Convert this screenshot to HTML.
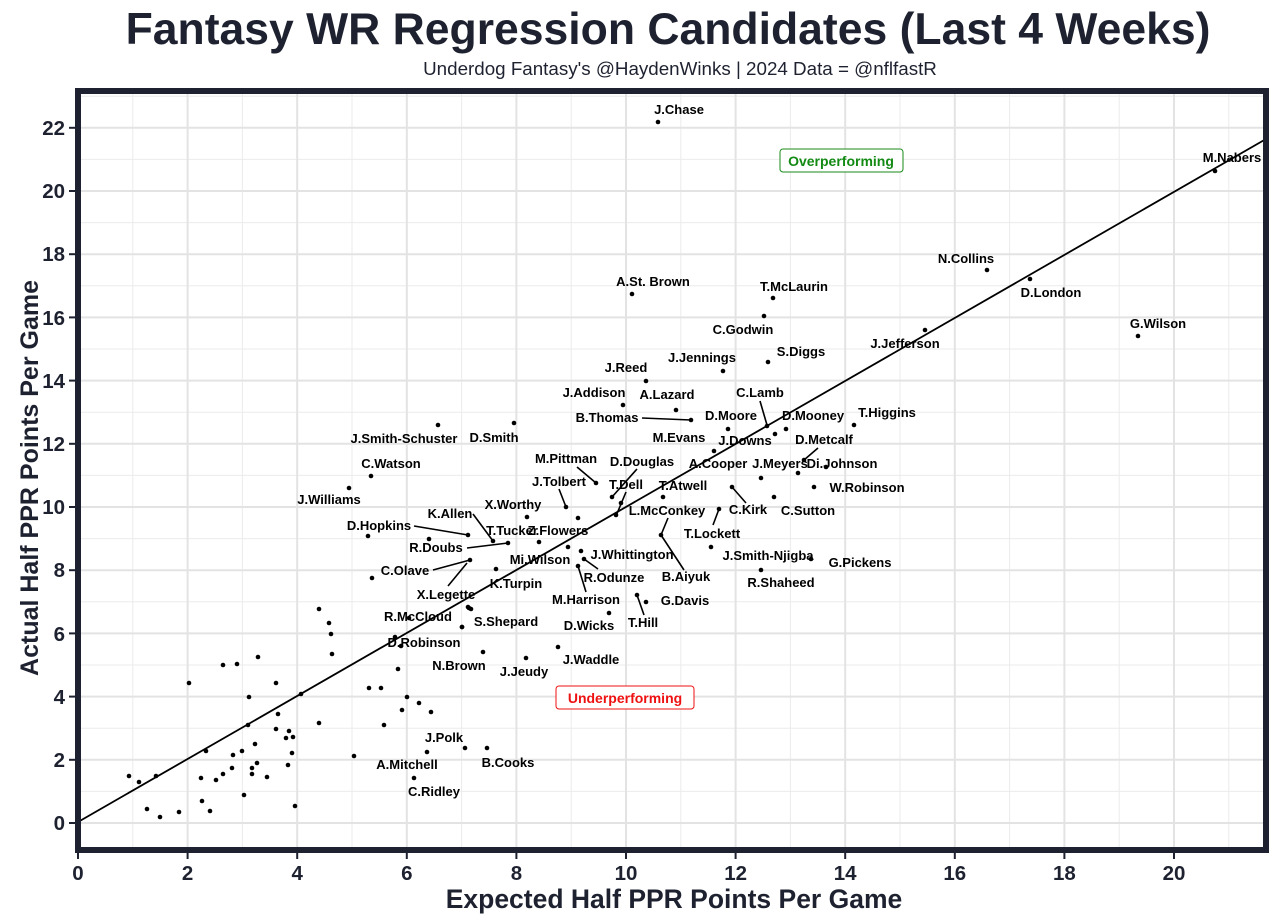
<!DOCTYPE html>
<html><head><meta charset="utf-8"><style>
body{margin:0;background:#fff;}
svg{display:block;font-family:"Liberation Sans",Arial,sans-serif;}
.l{font-size:13px;font-weight:bold;fill:#000;text-anchor:middle;}
.tk{font-size:20.5px;font-weight:bold;fill:#1e2230;}
</style></head><body>
<svg width="1280" height="922" viewBox="0 0 1280 922">
<rect width="1280" height="922" fill="#fff"/>
<text x="668" y="44" text-anchor="middle" font-size="44.5" font-weight="bold" fill="#1e2230">Fantasy WR Regression Candidates (Last 4 Weeks)</text>
<text x="680" y="75" text-anchor="middle" font-size="18.8" fill="#1e2230">Underdog Fantasy's @HaydenWinks | 2024 Data = @nflfastR</text>
<g stroke="#ebebeb" stroke-width="1">
<line x1="132.8" y1="94" x2="132.8" y2="850"/><line x1="242.4" y1="94" x2="242.4" y2="850"/><line x1="352" y1="94" x2="352" y2="850"/><line x1="461.6" y1="94" x2="461.6" y2="850"/><line x1="571.2" y1="94" x2="571.2" y2="850"/><line x1="680.8" y1="94" x2="680.8" y2="850"/><line x1="790.4" y1="94" x2="790.4" y2="850"/><line x1="900" y1="94" x2="900" y2="850"/><line x1="1009.6" y1="94" x2="1009.6" y2="850"/><line x1="1119.2" y1="94" x2="1119.2" y2="850"/><line x1="1228.8" y1="94" x2="1228.8" y2="850"/>
<line x1="81" y1="791.4" x2="1266" y2="791.4"/><line x1="81" y1="728.2" x2="1266" y2="728.2"/><line x1="81" y1="665" x2="1266" y2="665"/><line x1="81" y1="601.8" x2="1266" y2="601.8"/><line x1="81" y1="538.6" x2="1266" y2="538.6"/><line x1="81" y1="475.4" x2="1266" y2="475.4"/><line x1="81" y1="412.2" x2="1266" y2="412.2"/><line x1="81" y1="349" x2="1266" y2="349"/><line x1="81" y1="285.8" x2="1266" y2="285.8"/><line x1="81" y1="222.6" x2="1266" y2="222.6"/><line x1="81" y1="159.4" x2="1266" y2="159.4"/><line x1="81" y1="96.2" x2="1266" y2="96.2"/>
</g>
<g stroke="#e3e3e3" stroke-width="2">
<line x1="187.6" y1="94" x2="187.6" y2="850"/><line x1="297.2" y1="94" x2="297.2" y2="850"/><line x1="406.8" y1="94" x2="406.8" y2="850"/><line x1="516.4" y1="94" x2="516.4" y2="850"/><line x1="626" y1="94" x2="626" y2="850"/><line x1="735.6" y1="94" x2="735.6" y2="850"/><line x1="845.2" y1="94" x2="845.2" y2="850"/><line x1="954.8" y1="94" x2="954.8" y2="850"/><line x1="1064.4" y1="94" x2="1064.4" y2="850"/><line x1="1174" y1="94" x2="1174" y2="850"/>
<line x1="81" y1="823" x2="1266" y2="823"/><line x1="81" y1="759.8" x2="1266" y2="759.8"/><line x1="81" y1="696.6" x2="1266" y2="696.6"/><line x1="81" y1="633.4" x2="1266" y2="633.4"/><line x1="81" y1="570.2" x2="1266" y2="570.2"/><line x1="81" y1="507" x2="1266" y2="507"/><line x1="81" y1="443.8" x2="1266" y2="443.8"/><line x1="81" y1="380.6" x2="1266" y2="380.6"/><line x1="81" y1="317.4" x2="1266" y2="317.4"/><line x1="81" y1="254.2" x2="1266" y2="254.2"/><line x1="81" y1="191" x2="1266" y2="191"/><line x1="81" y1="127.8" x2="1266" y2="127.8"/>
</g>
<line x1="78" y1="822" x2="1266" y2="139" stroke="#000" stroke-width="1.8"/>
<g stroke="#000" stroke-width="1.6">
<line x1="760" y1="401" x2="767" y2="425"/><line x1="818" y1="448" x2="804" y2="460"/><line x1="732" y1="487" x2="746" y2="503"/><line x1="719" y1="509" x2="713" y2="525"/>
<polyline fill="none" points="668,518 661,535 684,570"/><line x1="637" y1="469" x2="612" y2="497"/><line x1="626" y1="492" x2="616" y2="516"/><line x1="642" y1="418" x2="691" y2="420"/>
<line x1="577" y1="467" x2="596" y2="483"/><line x1="559" y1="489" x2="566" y2="507"/><line x1="473" y1="514" x2="493" y2="541"/><line x1="414" y1="526" x2="468" y2="535"/><line x1="467" y1="548" x2="508" y2="543"/><line x1="433" y1="570" x2="470" y2="560"/><line x1="448" y1="586" x2="467" y2="563"/><line x1="598" y1="569" x2="584" y2="559"/><line x1="586" y1="592" x2="578" y2="566"/><line x1="644" y1="615" x2="637" y2="595"/>
</g>
<g fill="#000">
<circle cx="319" cy="609" r="2.3"/><circle cx="329" cy="623" r="2.3"/><circle cx="331" cy="634" r="2.3"/><circle cx="332" cy="654" r="2.3"/><circle cx="223" cy="665" r="2.3"/><circle cx="237" cy="664" r="2.3"/><circle cx="258" cy="657" r="2.3"/><circle cx="189" cy="683" r="2.3"/><circle cx="276" cy="683" r="2.3"/><circle cx="249" cy="697" r="2.3"/><circle cx="301" cy="694" r="2.3"/><circle cx="369" cy="688" r="2.3"/><circle cx="381" cy="688" r="2.3"/><circle cx="407" cy="697" r="2.3"/><circle cx="402" cy="710" r="2.3"/><circle cx="419" cy="703" r="2.3"/><circle cx="431" cy="712" r="2.3"/><circle cx="398" cy="669" r="2.3"/><circle cx="462" cy="627" r="2.3"/><circle cx="469" cy="608" r="2.3"/><circle cx="401" cy="646" r="2.3"/><circle cx="395" cy="637" r="2.3"/><circle cx="409" cy="618" r="2.3"/><circle cx="278" cy="714" r="2.3"/><circle cx="319" cy="723" r="2.3"/><circle cx="384" cy="725" r="2.3"/><circle cx="248" cy="725" r="2.3"/><circle cx="276" cy="729" r="2.3"/><circle cx="289" cy="731" r="2.3"/><circle cx="286" cy="738" r="2.3"/><circle cx="293" cy="737" r="2.3"/><circle cx="255" cy="744" r="2.3"/><circle cx="206" cy="751" r="2.3"/><circle cx="233" cy="755" r="2.3"/><circle cx="242" cy="751" r="2.3"/><circle cx="292" cy="753" r="2.3"/><circle cx="354" cy="756" r="2.3"/><circle cx="427" cy="752" r="2.3"/><circle cx="465" cy="748" r="2.3"/><circle cx="487" cy="748" r="2.3"/><circle cx="129" cy="776" r="2.3"/><circle cx="139" cy="782" r="2.3"/><circle cx="156" cy="776" r="2.3"/><circle cx="201" cy="778" r="2.3"/><circle cx="216" cy="780" r="2.3"/><circle cx="223" cy="774" r="2.3"/><circle cx="232" cy="768" r="2.3"/><circle cx="252" cy="768" r="2.3"/><circle cx="252" cy="774" r="2.3"/><circle cx="257" cy="763" r="2.3"/><circle cx="267" cy="777" r="2.3"/><circle cx="288" cy="765" r="2.3"/><circle cx="414" cy="778" r="2.3"/><circle cx="147" cy="809" r="2.3"/><circle cx="160" cy="817" r="2.3"/><circle cx="179" cy="812" r="2.3"/><circle cx="202" cy="801" r="2.3"/><circle cx="210" cy="811" r="2.3"/><circle cx="244" cy="795" r="2.3"/><circle cx="295" cy="806" r="2.3"/>
<circle cx="371" cy="476" r="2.3"/><circle cx="349" cy="488" r="2.3"/><circle cx="368" cy="536" r="2.3"/><circle cx="468" cy="535" r="2.3"/><circle cx="429" cy="539" r="2.3"/><circle cx="493" cy="541" r="2.3"/><circle cx="508" cy="543" r="2.3"/><circle cx="470" cy="560" r="2.3"/><circle cx="372" cy="578" r="2.3"/><circle cx="496" cy="569" r="2.3"/><circle cx="527" cy="517" r="2.3"/><circle cx="539" cy="542" r="2.3"/><circle cx="566" cy="507" r="2.3"/><circle cx="578" cy="518" r="2.3"/><circle cx="596" cy="483" r="2.3"/><circle cx="568" cy="547" r="2.3"/><circle cx="581" cy="551" r="2.3"/><circle cx="584" cy="559" r="2.3"/><circle cx="578" cy="566" r="2.3"/><circle cx="637" cy="595" r="2.3"/><circle cx="646" cy="602" r="2.3"/><circle cx="609" cy="613" r="2.3"/><circle cx="468" cy="607" r="2.3"/><circle cx="471" cy="609" r="2.3"/><circle cx="462" cy="627" r="2.3"/><circle cx="483" cy="652" r="2.3"/><circle cx="526" cy="658" r="2.3"/><circle cx="558" cy="647" r="2.3"/>
<circle cx="646" cy="381" r="2.3"/><circle cx="723" cy="371" r="2.3"/><circle cx="623" cy="405" r="2.3"/><circle cx="676" cy="410" r="2.3"/><circle cx="691" cy="420" r="2.3"/><circle cx="728" cy="429" r="2.3"/><circle cx="767" cy="426" r="2.3"/><circle cx="775" cy="434" r="2.3"/><circle cx="786" cy="429" r="2.3"/><circle cx="854" cy="425" r="2.3"/><circle cx="714" cy="451" r="2.3"/><circle cx="804" cy="460" r="2.3"/><circle cx="826" cy="467" r="2.3"/><circle cx="798" cy="473" r="2.3"/><circle cx="761" cy="478" r="2.3"/><circle cx="814" cy="487" r="2.3"/><circle cx="732" cy="487" r="2.3"/><circle cx="774" cy="497" r="2.3"/><circle cx="663" cy="497" r="2.3"/><circle cx="612" cy="497" r="2.3"/><circle cx="621" cy="503" r="2.3"/><circle cx="616" cy="515" r="2.3"/><circle cx="719" cy="509" r="2.3"/><circle cx="661" cy="535" r="2.3"/><circle cx="711" cy="547" r="2.3"/><circle cx="811" cy="559" r="2.3"/><circle cx="761" cy="570" r="2.3"/>
<circle cx="658" cy="122" r="2.3"/><circle cx="1215" cy="171" r="2.3"/><circle cx="987" cy="270" r="2.3"/><circle cx="1030" cy="279" r="2.3"/><circle cx="1138" cy="336" r="2.3"/><circle cx="925" cy="330" r="2.3"/><circle cx="773" cy="298" r="2.3"/><circle cx="632" cy="294" r="2.3"/><circle cx="764" cy="316" r="2.3"/><circle cx="768" cy="362" r="2.3"/><circle cx="438" cy="425" r="2.3"/><circle cx="514" cy="423" r="2.3"/>
</g>
<g class="l">
<text x="679" y="114">J.Chase</text><text x="1232" y="162">M.Nabers</text><text x="966" y="263">N.Collins</text><text x="1051" y="297">D.London</text><text x="1158" y="328">G.Wilson</text><text x="905" y="348">J.Jefferson</text><text x="794" y="291">T.McLaurin</text><text x="653" y="286">A.St. Brown</text><text x="743" y="334">C.Godwin</text><text x="801" y="356">S.Diggs</text><text x="702" y="362">J.Jennings</text><text x="626" y="372">J.Reed</text><text x="594" y="397">J.Addison</text><text x="667" y="399">A.Lazard</text><text x="607" y="422">B.Thomas</text><text x="760" y="397">C.Lamb</text><text x="731" y="420">D.Moore</text><text x="813" y="420">D.Mooney</text><text x="887" y="417">T.Higgins</text><text x="404" y="443">J.Smith-Schuster</text><text x="494" y="442">D.Smith</text><text x="679" y="442">M.Evans</text><text x="745" y="445">J.Downs</text><text x="824" y="444">D.Metcalf</text><text x="391" y="468">C.Watson</text><text x="329" y="504">J.Williams</text><text x="566" y="463">M.Pittman</text><text x="642" y="466">D.Douglas</text><text x="559" y="486">J.Tolbert</text><text x="626" y="489">T.Dell</text><text x="683" y="490">T.Atwell</text><text x="718" y="468">A.Cooper</text><text x="780" y="468">J.Meyers</text><text x="842" y="468">Di.Johnson</text><text x="748" y="514">C.Kirk</text><text x="867" y="492">W.Robinson</text><text x="808" y="515">C.Sutton</text><text x="667" y="515">L.McConkey</text><text x="712" y="538">T.Lockett</text><text x="768" y="560">J.Smith-Njigba</text><text x="860" y="567">G.Pickens</text><text x="781" y="587">R.Shaheed</text><text x="686" y="581">B.Aiyuk</text><text x="513" y="509">X.Worthy</text><text x="450" y="518">K.Allen</text><text x="512" y="535">T.Tucker</text><text x="379" y="530">D.Hopkins</text><text x="436" y="552">R.Doubs</text><text x="558" y="535">Z.Flowers</text><text x="540" y="564">Mi.Wilson</text><text x="632" y="559">J.Whittington</text><text x="614" y="582">R.Odunze</text><text x="405" y="575">C.Olave</text><text x="516" y="588">K.Turpin</text><text x="446" y="599">X.Legette</text><text x="586" y="604">M.Harrison</text><text x="685" y="605">G.Davis</text><text x="643" y="627">T.Hill</text><text x="589" y="630">D.Wicks</text><text x="418" y="621">R.McCloud</text><text x="506" y="626">S.Shepard</text><text x="424" y="647">D.Robinson</text><text x="591" y="664">J.Waddle</text><text x="459" y="670">N.Brown</text><text x="524" y="676">J.Jeudy</text><text x="444" y="742">J.Polk</text><text x="407" y="769">A.Mitchell</text><text x="508" y="767">B.Cooks</text><text x="434" y="796">C.Ridley</text>
</g>
<rect x="780" y="149" width="123" height="23" rx="3" fill="#fff" stroke="#1a8a1a" stroke-width="1"/>
<text x="841" y="166" text-anchor="middle" font-size="14" font-weight="bold" fill="#138a13">Overperforming</text>
<rect x="556" y="686" width="138" height="23" rx="3" fill="#fff" stroke="#ee1111" stroke-width="1"/>
<text x="625" y="703" text-anchor="middle" font-size="14" font-weight="bold" fill="#ee1111">Underperforming</text>
<rect x="78" y="91" width="1188" height="759" fill="none" stroke="#1e2230" stroke-width="6"/>
<g stroke="#1e2230" stroke-width="2">
<line x1="78" y1="853" x2="78" y2="859"/><line x1="187.6" y1="853" x2="187.6" y2="859"/><line x1="297.2" y1="853" x2="297.2" y2="859"/><line x1="406.8" y1="853" x2="406.8" y2="859"/><line x1="516.4" y1="853" x2="516.4" y2="859"/><line x1="626" y1="853" x2="626" y2="859"/><line x1="735.6" y1="853" x2="735.6" y2="859"/><line x1="845.2" y1="853" x2="845.2" y2="859"/><line x1="954.8" y1="853" x2="954.8" y2="859"/><line x1="1064.4" y1="853" x2="1064.4" y2="859"/><line x1="1174" y1="853" x2="1174" y2="859"/>
<line x1="69" y1="823" x2="75" y2="823"/><line x1="69" y1="759.8" x2="75" y2="759.8"/><line x1="69" y1="696.6" x2="75" y2="696.6"/><line x1="69" y1="633.4" x2="75" y2="633.4"/><line x1="69" y1="570.2" x2="75" y2="570.2"/><line x1="69" y1="507" x2="75" y2="507"/><line x1="69" y1="443.8" x2="75" y2="443.8"/><line x1="69" y1="380.6" x2="75" y2="380.6"/><line x1="69" y1="317.4" x2="75" y2="317.4"/><line x1="69" y1="254.2" x2="75" y2="254.2"/><line x1="69" y1="191" x2="75" y2="191"/><line x1="69" y1="127.8" x2="75" y2="127.8"/>
</g>
<g class="tk" text-anchor="middle">
<text x="78" y="880">0</text><text x="187.6" y="880">2</text><text x="297.2" y="880">4</text><text x="406.8" y="880">6</text><text x="516.4" y="880">8</text><text x="626" y="880">10</text><text x="735.6" y="880">12</text><text x="845.2" y="880">14</text><text x="954.8" y="880">16</text><text x="1064.4" y="880">18</text><text x="1174" y="880">20</text>
</g>
<g class="tk" text-anchor="end">
<text x="65" y="830">0</text><text x="65" y="767">2</text><text x="65" y="704">4</text><text x="65" y="641">6</text><text x="65" y="577">8</text><text x="65" y="514">10</text><text x="65" y="451">12</text><text x="65" y="388">14</text><text x="65" y="325">16</text><text x="65" y="261">18</text><text x="65" y="198">20</text><text x="65" y="135">22</text>
</g>
<text x="674" y="908" text-anchor="middle" font-size="26.5" font-weight="bold" fill="#1e2230">Expected Half PPR Points Per Game</text>
<text transform="translate(38,478) rotate(-90)" text-anchor="middle" font-size="25" font-weight="bold" fill="#1e2230">Actual Half PPR Points Per Game</text>
</svg>
</body></html>
